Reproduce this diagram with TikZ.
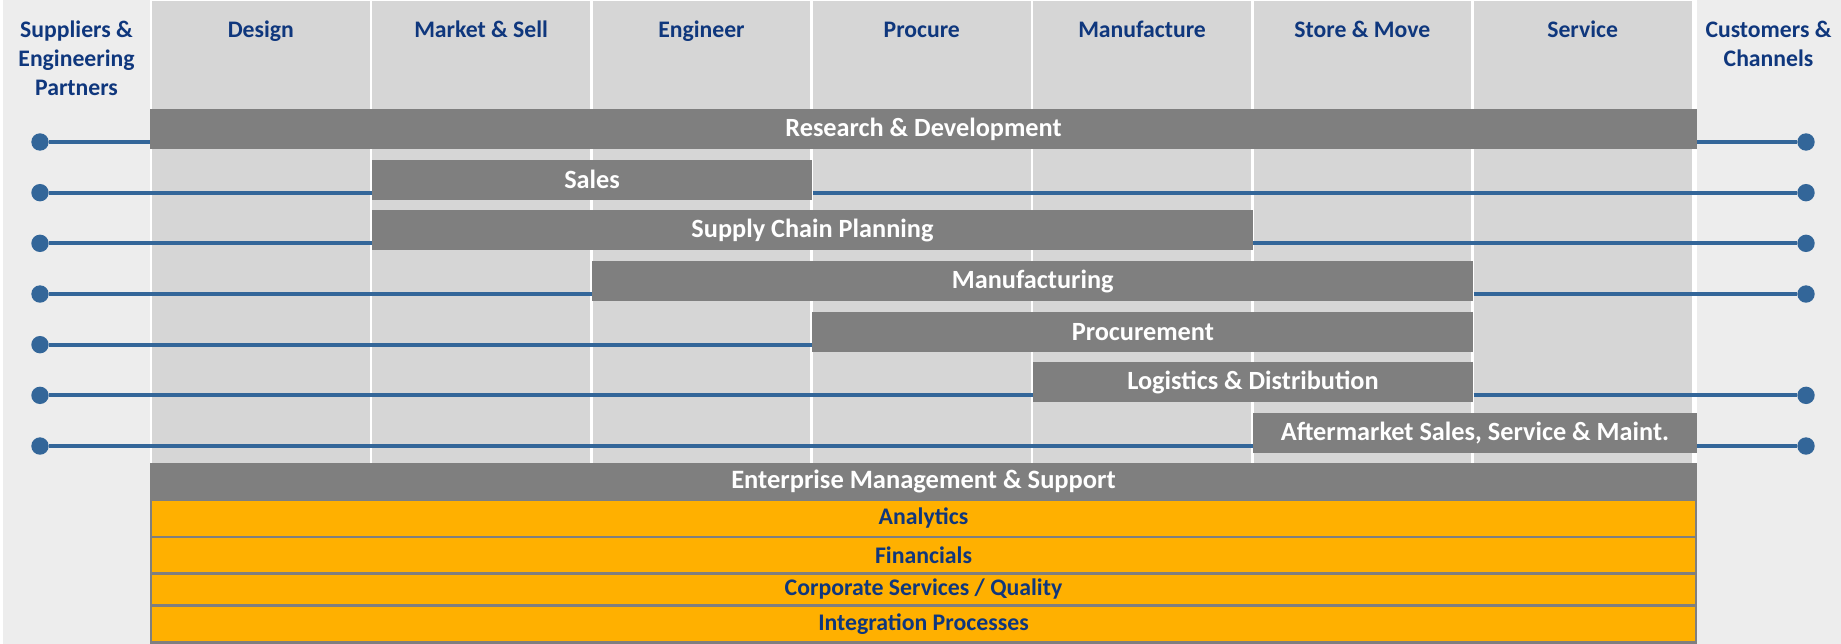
\documentclass[tikz,border=0pt]{standalone}
\usepackage{fontspec}
\setmainfont{Carlito}
\usepackage{tikz}
\usetikzlibrary{positioning, calc}

\definecolor{sidegray}{HTML}{EDEDED}
\definecolor{colgray}{HTML}{D6D6D6}
\definecolor{bargray}{HTML}{7F7F7F}
\definecolor{linkblue}{HTML}{336699}
\definecolor{headblue}{RGB}{15,55,125}
\definecolor{boxorange}{HTML}{FFB000}

\begin{document}
\begin{tikzpicture}[x=1pt, y=-1pt,
	head/.style={text=headblue, font=\fontsize{23.7}{29}\selectfont\bfseries, align=center, anchor=base, inner sep=0pt},
	bar/.style={fill=bargray, text=white, font=\fontsize{26.3}{30}\selectfont\bfseries, minimum height=40pt, inner sep=0pt},
	obox/.style={fill=boxorange, draw=bargray, line width=2.3pt, text=headblue, font=\fontsize{23.8}{26}\selectfont\bfseries, minimum width=1545pt, inner sep=0pt},
	dot/.style={circle, fill=linkblue, minimum size=17.4pt, inner sep=0pt},
	link/.style={linkblue, line width=4pt}]
		
		\useasboundingbox (0,0) rectangle (1841,644);
		
		%//background and side panels
		\fill[white] (0,0) rectangle (1841,644);
		\fill[sidegray] (3,0) rectangle (1841,644);
		\fill[white] (150,0) rectangle (1697,463);
		
		%//columns with their headers
		\foreach \i/\label in {0/Design, 1/{Market \& Sell}, 2/Engineer, 3/Procure, 4/Manufacture, 5/{Store \& Move}, 6/Service}
		{
		\fill[colgray] (152+220.3*\i, 1) rectangle ++(217.7, 462);
		\node [head] (h\i) at (152+220.3*\i+108.85, 37.3) {\label};
		}
		
		%//base of a multi-line node is its last line
		\node [head] (supp) at (76.5, 37.3+58) {Suppliers \&\\Engineering\\Partners};
		\node [head] (cust) at (1768.5, 37.3+29) {Customers \&\\Channels};
		
		%//process bars, one per row
		\foreach \name/\row/\from/\to/\txt in {rd/0/150/1697/{Research \& Development}, sales/1/371.8/812.4/Sales, scp/2/371.8/1253/{Supply Chain Planning}, mfg/3/592.1/1473.3/Manufacturing, proc/4/812.4/1473.3/Procurement, logi/5/1032.7/1473.3/{Logistics \& Distribution}, after/6/1253/1697/{Aftermarket Sales, Service \& Maint.}}
		{
		\pgfmathsetmacro\ybar{142+50.67*\row-13}
		\pgfmathsetmacro\wbar{\to-\from}
		\pgfmathsetmacro\xbar{(\from+\to)/2}
		\node [bar, minimum width=\wbar pt] (\name) at (\xbar, \ybar) {\txt};
		}
		
		%//dots on both sides
		\foreach \row in {0,1,2,3,4,5,6}
		\node [dot] (l\row) at (40, 142+50.67*\row) {};
		
		\foreach \row in {0,1,2,3,5,6}
		\node [dot] (r\row) at (1806, 142+50.67*\row) {};
		
		\foreach \name/\row in {rd/0, sales/1, scp/2, mfg/3, proc/4, logi/5, after/6}
		\draw [link] (l\row) -- (l\row -| \name.west);
		
		\foreach \name/\row in {rd/0, sales/1, scp/2, mfg/3, logi/5, after/6}
		\draw [link] (\name.east |- r\row) -- (r\row);
		
		%//support layers at the bottom
		\node [bar, minimum width=1547pt, minimum height=36pt, font=\fontsize{26.5}{30}\selectfont\bfseries] (ems) at (923.5, 481) {Enterprise Management \& Support};
		
		\foreach \name/\yc/\hgt/\txt in {ana/518.5/37/Analytics, fin/555.25/36.5/Financials, corp/589.5/32/{Corporate Services / Quality}, integ/624/37/{Integration Processes}}
		\node [obox, minimum height=\hgt pt] (\name) at (923.5, \yc) {\txt};
		
		\end{tikzpicture}
\end{document}
